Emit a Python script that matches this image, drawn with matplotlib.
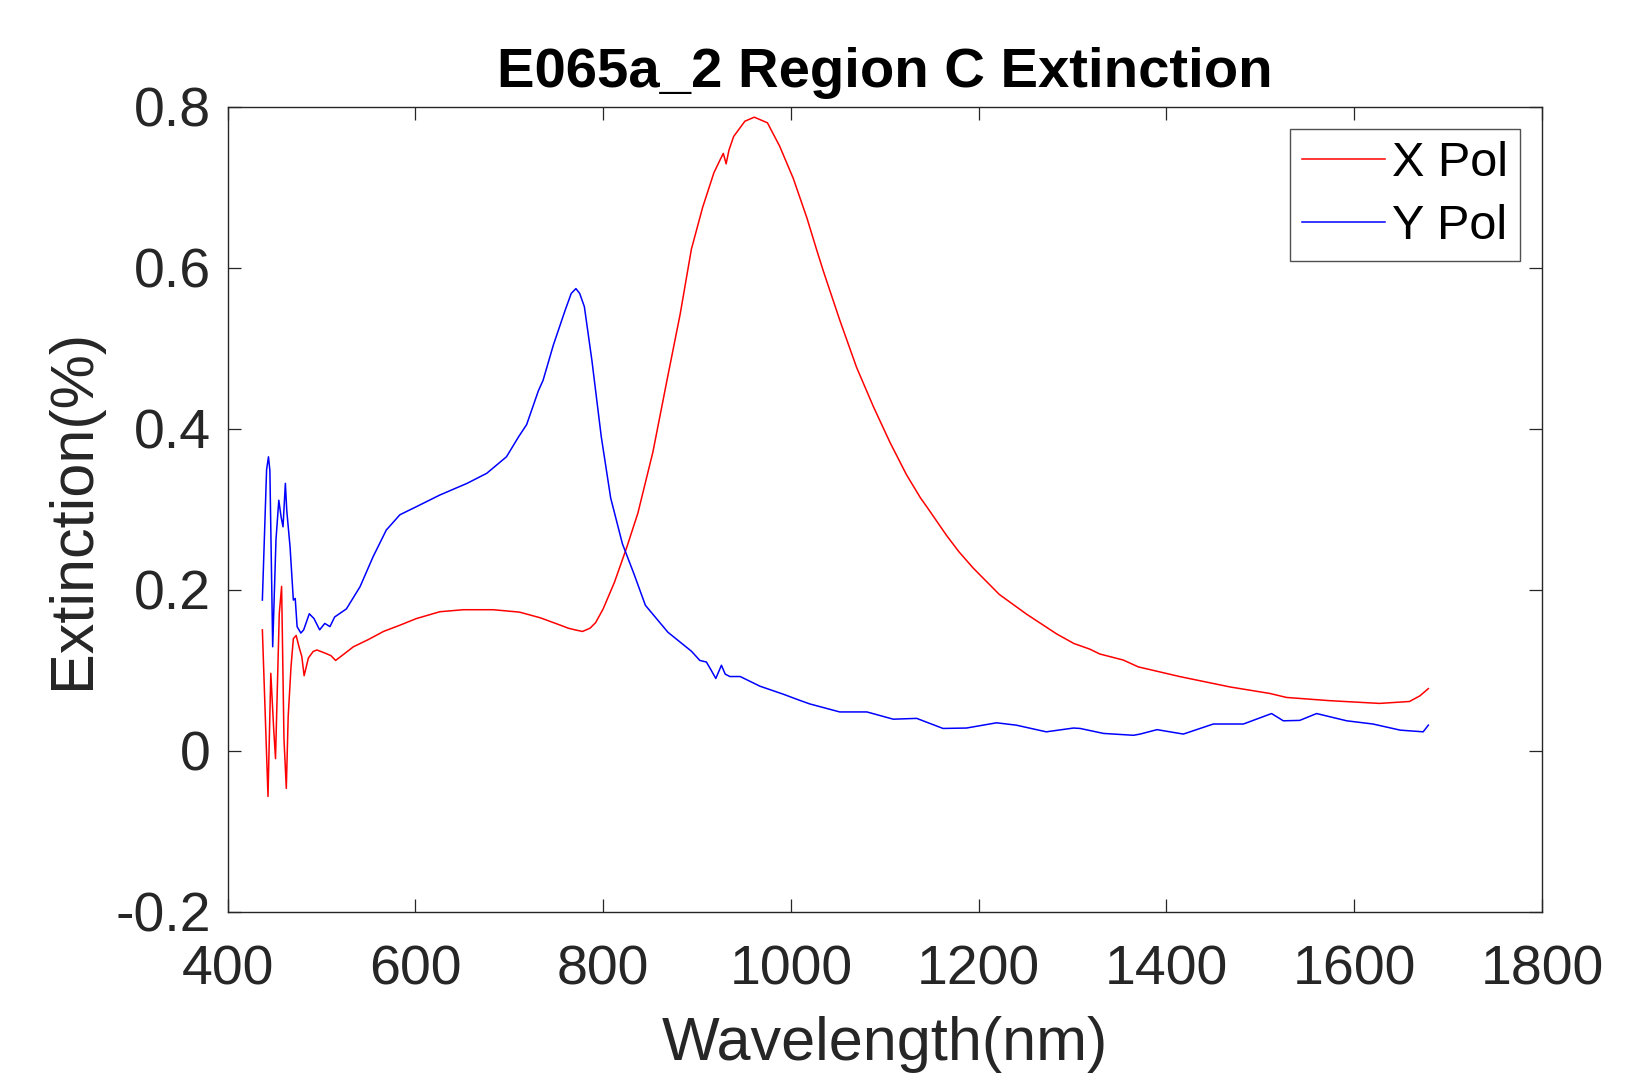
import matplotlib
matplotlib.use("Agg")
import matplotlib.pyplot as plt
from matplotlib.ticker import FuncFormatter

plt.rcParams['font.family'] = ['Liberation Sans', 'DejaVu Sans']
plt.rcParams['axes.unicode_minus'] = False

title = "E065a_2 Region C Extinction"
xlabel = "Wavelength(nm)"
ylabel = "Extinction(%)"
series_names = ["X Pol", "Y Pol"]

x_pol_nm = [437, 443, 446, 449, 451, 455, 457.5, 460, 462.5, 464.5, 467.5, 470, 473, 476,
            479, 481.5, 486, 491, 495, 504, 510, 515, 524, 534, 550, 566, 584, 601, 626,
            651, 683, 711, 733, 754, 763, 770, 778, 786, 792, 800, 812, 825, 837, 853, 869,
            882, 894, 906, 918, 925, 928, 931, 934, 939, 951, 961, 975, 988, 1002.5, 1017,
            1028, 1034.5, 1052, 1070, 1088, 1105.5, 1123, 1138, 1145, 1166, 1179, 1194,
            1222, 1251, 1283, 1301.5, 1318.5, 1329, 1354, 1370,
            1414, 1468, 1510, 1528, 1574, 1627, 1659, 1670, 1679]
x_pol_val = [0.150, -0.057, 0.096, 0.028, -0.010, 0.170, 0.204, 0.015, -0.047, 0.042, 0.104,
             0.139, 0.143, 0.129, 0.117, 0.093, 0.115, 0.123, 0.125, 0.121, 0.118, 0.112,
             0.120, 0.129, 0.138, 0.148, 0.156, 0.164, 0.1725, 0.175, 0.175, 0.172, 0.165,
             0.156, 0.152, 0.150, 0.148, 0.152, 0.159, 0.176, 0.209, 0.252, 0.295, 0.371,
             0.466, 0.542, 0.623, 0.675, 0.718, 0.735, 0.742, 0.729, 0.746, 0.763, 0.782,
             0.787, 0.780, 0.751, 0.711, 0.662,
             0.620, 0.596, 0.535, 0.476, 0.427, 0.383, 0.343, 0.314, 0.3025, 0.267, 0.247,
             0.227, 0.194, 0.1695, 0.145, 0.133, 0.126, 0.120, 0.1125, 0.104,
             0.092, 0.079, 0.071, 0.066, 0.062, 0.0586, 0.061, 0.068, 0.077]

y_pol_nm = [437, 441.5, 443.5, 445, 448, 451.5, 454.5, 457, 459, 461.5, 463, 466.5, 470, 472,
            474, 478, 481, 487, 492, 498, 503.5, 509, 514, 526.5, 541, 555, 569, 583.5, 601,
            626, 655, 676, 697, 710, 718.5, 731, 736, 747, 759.5, 766, 771, 775, 780, 788,
            798, 808, 820.5, 833, 845, 869, 894, 903, 910, 915, 920, 926, 930, 935, 946, 967,
            992, 1008, 1020, 1052, 1081, 1109, 1134, 1162, 1187, 1219, 1240, 1272, 1301,
            1308, 1333, 1365, 1372, 1390, 1418, 1450, 1482, 1512, 1524.5, 1542, 1560, 1592,
            1620, 1649, 1673.5, 1679]
y_pol_val = [0.187, 0.349, 0.365, 0.348, 0.129, 0.262, 0.311, 0.290, 0.278, 0.332, 0.298,
             0.253, 0.187, 0.189, 0.154, 0.146, 0.150, 0.170, 0.164, 0.150, 0.158, 0.154,
             0.166, 0.176, 0.2035, 0.241, 0.274, 0.293, 0.303, 0.3175, 0.332, 0.3445, 0.365,
             0.390, 0.405, 0.447, 0.460, 0.504, 0.547, 0.568, 0.574, 0.568, 0.5515, 0.485,
             0.390, 0.314, 0.257, 0.219, 0.1805, 0.147, 0.1235, 0.112, 0.110, 0.100, 0.0896,
             0.106, 0.095, 0.092, 0.092, 0.080, 0.070, 0.063, 0.058, 0.048, 0.048, 0.039,
             0.040, 0.0275, 0.028, 0.0345, 0.0316, 0.0233, 0.028, 0.0275, 0.0213, 0.019,
             0.0205, 0.026, 0.0205, 0.033, 0.033, 0.046, 0.037, 0.0375, 0.046, 0.037, 0.033,
             0.0254, 0.0233, 0.0316]

x_ticks = [400, 600, 800, 1000, 1200, 1400, 1600, 1800]
y_ticks = [-0.2, 0, 0.2, 0.4, 0.6, 0.8]

fig = plt.figure(figsize=(16.4, 10.79), dpi=100)
ax = fig.add_axes([0.1388, 0.1552, 0.9402 - 0.1388, 0.9011 - 0.1552])

ax.plot(x_pol_nm, x_pol_val, color='#ff0000', lw=1.1, label=series_names[0])
ax.plot(y_pol_nm, y_pol_val, color='#0000ff', lw=1.1, label=series_names[1])

ax.set_xlim(400, 1800)
ax.set_ylim(-0.2, 0.8)
ax.set_xticks(x_ticks)
ax.set_yticks(y_ticks)
ax.yaxis.set_major_formatter(FuncFormatter(lambda v, p: ('%g' % round(v, 3))))

dark = '#262626'
for s in ax.spines.values():
    s.set_color(dark)
    s.set_linewidth(1.0)
ax.tick_params(direction='in', length=9.5, width=0.9, colors=dark, labelsize=40,
               top=True, right=True, pad=12)
ax.tick_params(axis='x', pad=24)

ax.set_xlabel(xlabel, fontsize=44, color=dark, labelpad=14)
ax.set_ylabel(ylabel, fontsize=44, color=dark, labelpad=10)
ax.set_title(title, fontsize=40.5, fontweight='bold', color='black', pad=14)

leg = ax.legend(loc='upper right', fontsize=35, frameon=True, fancybox=False,
                edgecolor=dark, handlelength=1.7, handletextpad=0.15,
                borderpad=0.25, labelspacing=0.38, borderaxespad=0.45)
leg.get_frame().set_linewidth(1.0)

fig.savefig("out.png", dpi=100, facecolor='white')
